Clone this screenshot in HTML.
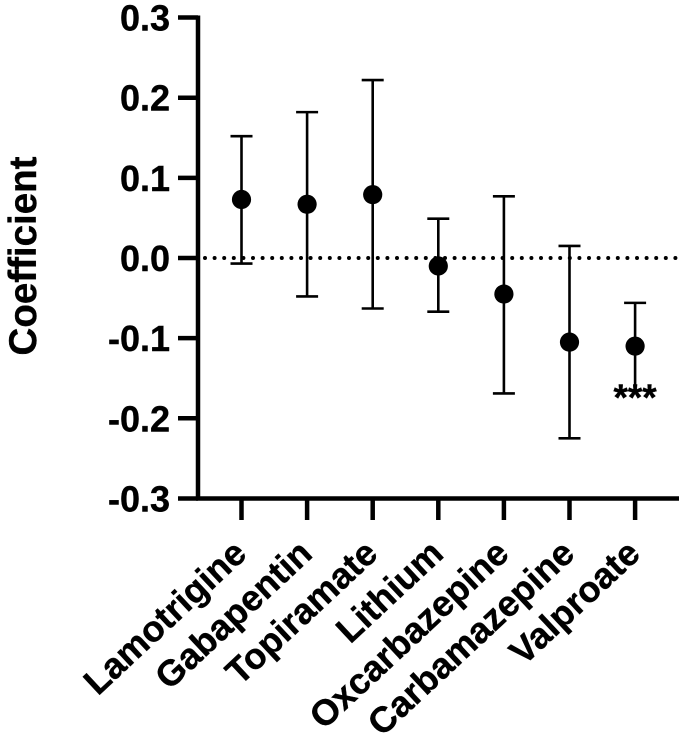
<!DOCTYPE html>
<html>
<head>
<meta charset="utf-8">
<style>
html,body{margin:0;padding:0;background:#fff;}
svg{display:block;}
text{font-family:"Liberation Sans",sans-serif;font-weight:bold;fill:#000;stroke:#000;stroke-width:0.4;}
</style>
</head>
<body>
<svg id="chart" width="685" height="743" viewBox="0 0 685 743" xmlns="http://www.w3.org/2000/svg"></svg>
<script>
const categories = ["Lamotrigine","Gabapentin","Topiramate","Lithium","Oxcarbazepine","Carbamazepine","Valproate"];
const coefficients = [0.073,0.067,0.079,-0.010,-0.045,-0.105,-0.110];
const upperBounds = [0.152,0.182,0.222,0.049,0.077,0.015,-0.056];
const lowerBounds = [-0.007,-0.048,-0.063,-0.067,-0.169,-0.225,-0.165];
const yTicks = [0.3,0.2,0.1,0.0,-0.1,-0.2,-0.3];
const significance = ["","","","","","","***"];

const NS = "http://www.w3.org/2000/svg";
const svg = document.getElementById("chart");
function y(v){ return 258 - v * 801.5; }
function x(i){ return 241.5 + i * 65.6; }
function mk(tag, attrs, parent){
  const el = document.createElementNS(NS, tag);
  for (const k in attrs) el.setAttribute(k, attrs[k]);
  (parent || svg).appendChild(el);
  return el;
}

// zero reference line
const zero = mk("line",{x1:205,x2:678,y1:y(0),y2:y(0),stroke:"#000","stroke-width":4,"stroke-linecap":"round","stroke-dasharray":"0 9.6"});



// y axis
const yAxis = mk("line",{x1:198,x2:198,y1:y(0.3)-2,y2:y(-0.3)+2,stroke:"#000","stroke-width":4.5});


yTicks.forEach(function(t){
  const tick = mk("line",{x1:178,x2:198,y1:y(t),y2:y(t),stroke:"#000","stroke-width":4.5});
  
  
  const lab = mk("text",{x:170,y:y(t)+13,"text-anchor":"end","font-size":36});
  
  
  lab.textContent = t.toFixed(1);
});

// x axis
const xAxis = mk("line",{x1:196,x2:679,y1:y(-0.3),y2:y(-0.3),stroke:"#000","stroke-width":4.5});



// y title
const title = mk("text",{x:0,y:0,"text-anchor":"middle","font-size":38.5,transform:"translate(36,256) rotate(-90)"});


title.textContent = "Coefficient";

categories.forEach(function(name,i){
  const cx = x(i);
  const tick = mk("line",{x1:cx,x2:cx,y1:y(-0.3),y2:520,stroke:"#000","stroke-width":4.5});
  
  

  const lab = mk("text",{x:0,y:0,"text-anchor":"end","font-size":36,transform:"translate("+(cx+7)+",556) rotate(-43)"});
  
  
  lab.textContent = name;

  const stem = mk("line",{x1:cx,x2:cx,y1:y(upperBounds[i]),y2:y(lowerBounds[i]),stroke:"#000","stroke-width":2.6});
  
  
  const capHi = mk("line",{x1:cx-11,x2:cx+11,y1:y(upperBounds[i]),y2:y(upperBounds[i]),stroke:"#000","stroke-width":2.6});
  
  
  if (!significance[i]) {
    const capLo = mk("line",{x1:cx-11,x2:cx+11,y1:y(lowerBounds[i]),y2:y(lowerBounds[i]),stroke:"#000","stroke-width":2.6});
    
    
  }
  const pt = mk("circle",{cx:cx,cy:y(coefficients[i]),r:9.6,fill:"#000"});
  
  

  if (significance[i]) {
    const sig = mk("text",{x:cx,y:y(lowerBounds[i])+20,"text-anchor":"middle","font-size":37});
    
    
    sig.textContent = significance[i];
  }
});
</script>
</body>
</html>
